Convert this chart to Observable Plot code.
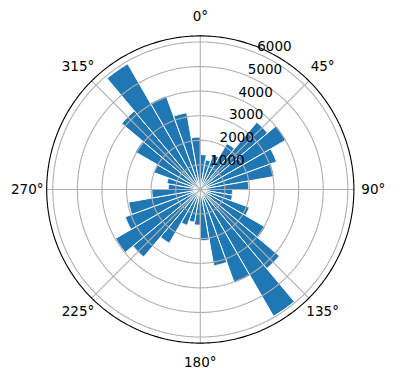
<!DOCTYPE html>
<html>
<head>
<meta charset="utf-8">
<script src="https://cdn.jsdelivr.net/npm/d3@7"></script>
<script src="https://cdn.jsdelivr.net/npm/@observablehq/plot@0.6"></script>
<style>
  html, body { margin: 0; padding: 0; background: white; }
  #chart svg { display: block; }
</style>
</head>
<body>
<div id="chart"></div>
<script>
// Bin start directions (degrees, clockwise from north), 10° bins
const directions = [0,10,20,30,40,50,60,70,80,90,100,110,120,130,140,150,160,170,
                    180,190,200,210,220,230,240,250,260,270,280,290,300,310,320,330,340,350];
// Bar heights (counts)
const counts = [1420,1220,1500,2160,3570,4020,3300,3050,1970,
                1310,1330,2120,3050,4200,5950,4040,3150,2080,
                1450,1350,1550,2520,3580,3980,3250,2960,1970,
                1300,1380,2010,3050,4170,5900,4050,3170,2130];
const binWidth = 10;
// Tick values and labels
const radialTicks = [1000,2000,3000,4000,5000,6000];
const angleTicks = [0,45,90,135,180,225,270,315];
const angleLabels = ["0°","45°","90°","135°","180°","225°","270°","315°"];

const rmax = d3.max(counts) * 1.05;
const rad = a => a * Math.PI / 180;
const px = (r, a) => r * Math.sin(rad(a));
const py = (r, a) => r * Math.cos(rad(a));

// Wedge outlines built from the data
const wedges = [];
directions.forEach((d, i) => {
  const v = counts[i];
  wedges.push({bin: i, x: 0, y: 0});
  for (let a = d; a <= d + binWidth + 1e-9; a += 0.5) wedges.push({bin: i, x: px(v, a), y: py(v, a)});
  wedges.push({bin: i, x: 0, y: 0});
});

function ring(r, key) {
  const pts = [];
  for (let a = 0; a <= 360; a += 1) pts.push({key, x: px(r, a), y: py(r, a)});
  return pts;
}
const gridRings = radialTicks.flatMap(t => ring(t, t));
const outerRing = ring(rmax, "outer");
const spokes = angleTicks.map(a => ({x2: px(rmax, a), y2: py(rmax, a)}));

const labelR = rmax * 173 / 153.6;
const angleText = angleTicks.map((a, i) => ({x: px(labelR, a), y: py(labelR, a), t: angleLabels[i]}));
const rlabelAngle = 22.5;
const radialText = radialTicks.map(t => ({x: px(t, rlabelAngle), y: py(t, rlabelAngle), t: String(t)}));

const chart = Plot.plot({
  width: 396,
  height: 380,
  marginLeft: 46.2,
  marginRight: 42.6,
  marginTop: 35.4,
  marginBottom: 37.4,
  x: {domain: [-rmax, rmax], axis: null},
  y: {domain: [-rmax, rmax], axis: null},
  style: {fontFamily: "DejaVu Sans", fontSize: "13.5px", background: "white", color: "black"},
  marks: [
    Plot.line(wedges, {x: "x", y: "y", z: "bin", fill: "#1f77b4", stroke: "white", strokeWidth: 1, curve: "linear"}),
    Plot.line(gridRings, {x: "x", y: "y", z: "key", stroke: "#b0b0b0", strokeWidth: 1.1}),
    Plot.link(spokes, {x1: 0, y1: 0, x2: "x2", y2: "y2", stroke: "#b0b0b0", strokeWidth: 1.1}),
    Plot.line(outerRing, {x: "x", y: "y", z: "key", stroke: "black", strokeWidth: 1.1}),
    Plot.text(angleText, {x: "x", y: "y", text: "t", fill: "black", fontSize: 13.5, textAnchor: "middle", lineAnchor: "middle"}),
    Plot.text(radialText, {x: "x", y: "y", text: "t", fill: "black", fontSize: 13.5, textAnchor: "start", lineAnchor: "middle", dx: 0.5, dy: -6.3})
  ]
});
document.getElementById("chart").appendChild(chart);
</script>
</body>
</html>
